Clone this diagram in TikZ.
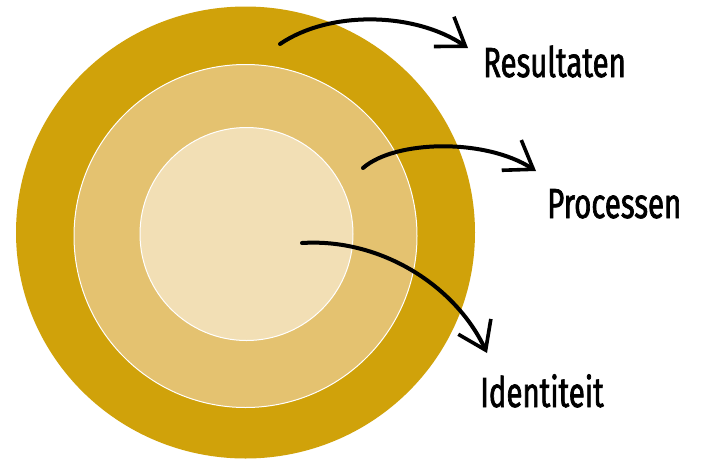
\documentclass[tikz,border=0pt]{standalone}
\usepackage{fontspec}
\usepackage{xcolor}
\usetikzlibrary{arrows.meta,positioning}
\newfontfamily\handfont[FakeStretch=0.7,FakeBold=1.6]{Fira Sans}
\definecolor{ringout}{HTML}{D0A20A}
\definecolor{ringmid}{HTML}{E4C270}
\definecolor{ringin}{HTML}{F2DFB5}
\tikzset{
  ring/.style={draw=white, line width=1pt},
  handarrow/.style={line width=4pt, line cap=round,
    -{Straight Barb[length=26pt,width=36pt,line width=3.6pt]}},
  label/.style={font=\handfont\fontsize{42}{44}\selectfont, anchor=base west, inner sep=0pt}
}
\begin{document}
\begin{tikzpicture}[x=1pt,y=-1pt]
    \useasboundingbox (0,0) rectangle (702,459);
    % the three rings
    \fill[ringout] (245.5,232.5) ellipse [x radius=229.5, y radius=226];
    \draw[ring, fill=ringmid] (245.5,236) circle (171.5);
    \draw[ring, fill=ringin] (246.5,234) circle (106.5);
    % labels
    \node[label] (res) at (483,77) {Resultaten};
    \node[label] (pro) at (547,218) {Processen};
    \node[label] (ide) at (480,407) {Identiteit};
    % arrows
    \coordinate (resstart) at (280,44);
    \coordinate (prostart) at (363,168);
    \coordinate (idestart) at (302,243);
    \coordinate (resend) at (468,48);
    \coordinate (proend) at (536,171);
    \coordinate (ideend) at (487,353);
    \draw[handarrow] (resstart) .. controls (330,10) and (415,12) .. (resend);
    \draw[handarrow] (prostart) .. controls (395,140) and (485,138) .. (proend);
    \draw[handarrow] (idestart) .. controls (380,238) and (455,285) .. (ideend);
\end{tikzpicture}
\end{document}
